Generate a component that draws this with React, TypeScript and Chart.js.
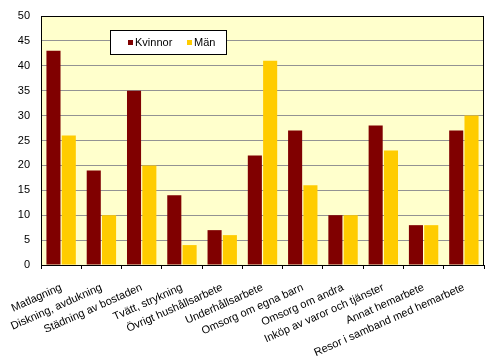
import React, { useEffect, useRef } from "react";
import { Chart, registerables } from "chart.js";

Chart.register(...registerables);

const categories = [
  "Matlagning",
  "Diskning, avdukning",
  "Städning av bostaden",
  "Tvätt, strykning",
  "Övrigt hushållsarbete",
  "Underhållsarbete",
  "Omsorg om egna barn",
  "Omsorg om andra",
  "Inköp av varor och tjänster",
  "Annat hemarbete",
  "Resor i samband med hemarbete",
];
const kvinnor = [43, 19, 35, 14, 7, 22, 27, 10, 28, 8, 27];
const man = [26, 10, 20, 4, 6, 41, 16, 10, 23, 8, 30];
const seriesNames = ["Kvinnor", "Män"];
const colors = ["#800000", "#FFCC00"];

const FONT = "'Liberation Sans', Arial, sans-serif";

const bgPlugin = {
  id: "bgPlugin",
  beforeDraw(chart: any) {
    const { ctx, chartArea: a } = chart;
    ctx.save();
    ctx.fillStyle = "#FFFFCC";
    ctx.fillRect(a.left, a.top, a.right - a.left, a.bottom - a.top);
    ctx.restore();
  },
  afterDraw(chart: any) {
    const { ctx, chartArea: a } = chart;
    ctx.save();
    ctx.strokeStyle = "#000";
    ctx.lineWidth = 1;
    ctx.strokeRect(a.left + 0.5, a.top + 0.5, a.right - a.left - 1, a.bottom - a.top);
    // legend
    const lx = a.left + 69;
    const ly = a.top + 14;
    ctx.fillStyle = "#fff";
    ctx.fillRect(lx, ly, 116, 24);
    ctx.strokeRect(lx + 0.5, ly + 0.5, 116, 24);
    ctx.font = `11px ${FONT}`;
    ctx.textBaseline = "middle";
    const offs = [18, 77];
    seriesNames.forEach((n, i) => {
      ctx.fillStyle = colors[i];
      ctx.fillRect(lx + offs[i], ly + 10, 5, 5);
      ctx.fillStyle = "#000";
      ctx.fillText(n, lx + offs[i] + 7, ly + 13);
    });
    ctx.restore();
  },
};

export default function App() {
  const ref = useRef<HTMLCanvasElement>(null);
  useEffect(() => {
    document.body.style.margin = "0";
    const chart = new Chart(ref.current!, {
      type: "bar",
      data: {
        labels: categories,
        datasets: [
          { label: seriesNames[0], data: kvinnor, backgroundColor: colors[0] },
          { label: seriesNames[1], data: man, backgroundColor: colors[1] },
        ],
      },
      options: {
        responsive: false,
        animation: false,
        layout: { padding: { top: 16, right: 16, left: 0, bottom: 0 } },
        plugins: { legend: { display: false }, tooltip: { enabled: false } },
        datasets: { bar: { categoryPercentage: 0.76, barPercentage: 0.92 } },
        scales: {
          x: {
            grid: {
              offset: true,
              drawOnChartArea: false,
              drawTicks: true,
              tickLength: 4,
              color: "#000",
            },
            border: { color: "#000" },
            ticks: {
              minRotation: 24,
              maxRotation: 24,
              autoSkip: false,
              color: "#000",
              font: { family: FONT, size: 11 },
              padding: 12,
            },
            afterFit(scale: any) {
              scale.height = 98;
              scale.paddingLeft = 0;
              scale.paddingRight = 0;
            },
          },
          y: {
            min: 0,
            max: 50,
            ticks: {
              stepSize: 5,
              color: "#000",
              font: { family: FONT, size: 11 },
              padding: 11,
            },
            grid: {
              drawTicks: false,
              color: (c: any) =>
                c.tick && (c.tick.value === 0 || c.tick.value === 50) ? "rgba(0,0,0,0)" : "#939393",
            },
            border: { color: "#000" },
            afterFit(scale: any) {
              scale.width = 41;
              scale.paddingTop = 0;
              scale.paddingBottom = 0;
            },
          },
        },
      },
      plugins: [bgPlugin],
    });
    return () => chart.destroy();
  }, []);
  return (
    <div style={{ width: 500, height: 363 }}>
      <canvas ref={ref} width={500} height={363} style={{ display: "block" }} />
    </div>
  );
}
